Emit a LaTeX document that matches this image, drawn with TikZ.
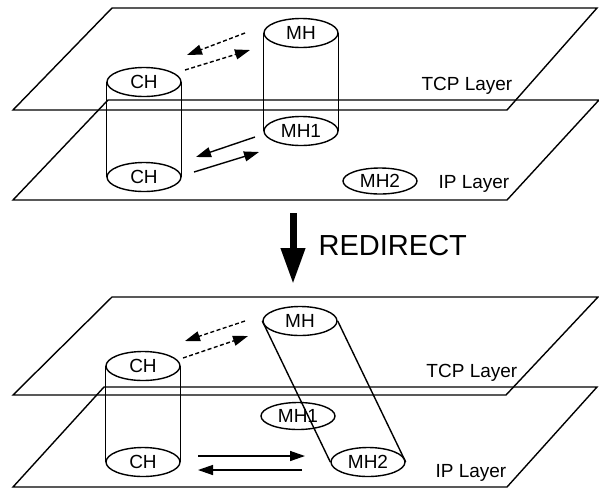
\documentclass[tikz,border=0pt]{standalone}
\usepackage{fontspec}
\setmainfont{Liberation Sans}
\usetikzlibrary{arrows.meta}
\usetikzlibrary{shapes,positioning}

\begin{document}
\begin{tikzpicture}[x=1pt, y=-1pt, line width=1.4pt, host/.style={ellipse, draw, fill=white, minimum width=74pt, minimum height=29pt, inner sep=0pt, font=\fontsize{19}{19}\selectfont}, label/.style={font=\fontsize{19}{19}\selectfont, inner sep=0pt}, flow/.style={-{Triangle[length=15pt,width=10pt]}}, ghost/.style={flow, dash pattern=on 4pt off 2.5pt}]
		\useasboundingbox (0,0) rectangle (599,488);

		\draw (112,8) -- (597,8) -- (507,110) -- (13,110) -- cycle;
		\draw (108,100) -- (599,100) -- (507,200) -- (13,200) -- cycle;
		\node[label, anchor=base east] (tcpa) at (513,90) {TCP Layer};
		\node[label, anchor=base east] (ipa) at (510,188) {IP Layer};

		\node[host] (chtopa) at (144,82) {CH};
		\node[host] (chbota) at (144,177) {CH};
		\draw (chtopa.west) -- (chbota.west) (chtopa.east) -- (chbota.east);
		\node[host] (mha) at (301,33) {MH};
		\node[host] (mhonea) at (301,131) {MH1};
		\draw (mha.west) -- (mhonea.west) (mha.east) -- (mhonea.east);
		\node[host, minimum height=26pt] (mhtwoa) at (380,181) {MH2};

		\coordinate (d1s) at (245,33);  \coordinate (d1e) at (187,55);
		\coordinate (d2s) at (185,70);  \coordinate (d2e) at (250,50);
		\coordinate (s1s) at (255,137); \coordinate (s1e) at (196,157);
		\coordinate (s2s) at (194,172); \coordinate (s2e) at (259,152);
		\draw[ghost] (d1s) -- (d1e);
		\draw[ghost] (d2s) -- (d2e);
		\draw[flow] (s1s) -- (s1e);
		\draw[flow] (s2s) -- (s2e);

		\coordinate (redtop) at (293,213);
		\coordinate (redbot) at (293,284);
		\draw[line width=7pt, -{Triangle[length=36pt,width=23pt]}] (redtop) -- (redbot);
		\node[anchor=west, inner sep=0pt, font=\fontsize{29}{29}\selectfont] (redirect) at (318,246) {REDIRECT};

		\draw (112,297) -- (598,297) -- (506,395) -- (13,395) -- cycle;
		\draw (104,387) -- (597,387) -- (507,487) -- (13,487) -- cycle;
		\node[label, anchor=base east] (tcpb) at (518,377) {TCP Layer};
		\node[label, anchor=base east] (ipb) at (507,477) {IP Layer};

		\node[host] (chtopb) at (143,366) {CH};
		\node[host] (chbotb) at (143,462) {CH};
		\draw (chtopb.west) -- (chbotb.west) (chtopb.east) -- (chbotb.east);
		\node[host] (mhb) at (300,321) {MH};
		\node[host, minimum height=27pt] (mhoneb) at (298,416) {MH1};
		\node[host] (mhtwob) at (368,462) {MH2};
		\draw (mhb.west) -- (mhtwob.west) (mhb.east) -- (mhtwob.east);

		\coordinate (d3s) at (245,321); \coordinate (d3e) at (185,341);
		\coordinate (d4s) at (183,358); \coordinate (d4e) at (248,336);
		\coordinate (s3s) at (198,456); \coordinate (s3e) at (305,456);
		\coordinate (s4s) at (302,470); \coordinate (s4e) at (198,470);
		\draw[ghost] (d3s) -- (d3e);
		\draw[ghost] (d4s) -- (d4e);
		\draw[flow] (s3s) -- (s3e);
		\draw[flow] (s4s) -- (s4e);
	\end{tikzpicture}
\end{document}
